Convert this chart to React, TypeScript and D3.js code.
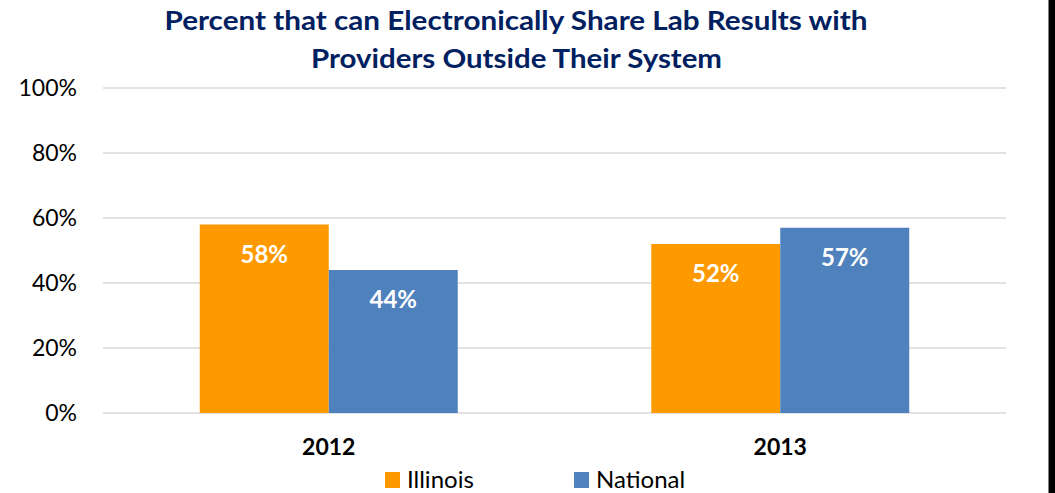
import React from "react";
import * as d3 from "d3";

const categories = ["2012", "2013"];
const seriesNames = ["Illinois", "National"];
const illinoisValues = [58, 52];
const nationalValues = [44, 57];
const yTicks = [0, 20, 40, 60, 80, 100];
const titleLines = [
  "Percent that can Electronically Share Lab Results with",
  "Providers Outside Their System",
];
const colors = ["#FF9900", "#4F81BD"];

const W = 1055;
const H = 493;
const FONT = "Lato, 'Open Sans', sans-serif";

export default function App() {
  const left = 103;
  const right = 1006;
  const top = 88;
  const bottom = 413;

  const x = d3
    .scaleBand<string>()
    .domain(categories)
    .range([left, right])
    .paddingInner(0.4286)
    .paddingOuter(0.2143);
  const xs = d3
    .scaleBand<string>()
    .domain(seriesNames)
    .range([0, x.bandwidth()])
    .padding(0);
  const y = d3.scaleLinear().domain([0, 100]).range([bottom, top]);

  const series = [illinoisValues, nationalValues];

  return (
    <svg
      width={W}
      height={H}
      style={{ position: "absolute", left: 0, top: 0, display: "block", background: "#fff" }}
    >
      <rect x={0} y={0} width={W} height={H} fill="#ffffff" />
      <rect x={1048.5} y={0} width={W - 1048.5} height={H} fill="#000" />

      {/* title */}
      <text
        x={516}
        y={30}
        textAnchor="middle"
        fontFamily={FONT}
        fontWeight="bold"
        fontSize={27}
        fill="#002060"
        textLength={703}
        lengthAdjust="spacingAndGlyphs"
      >
        {titleLines[0]}
      </text>
      <text
        x={516.5}
        y={68}
        textAnchor="middle"
        fontFamily={FONT}
        fontWeight="bold"
        fontSize={27}
        fill="#002060"
        textLength={411}
        lengthAdjust="spacingAndGlyphs"
      >
        {titleLines[1]}
      </text>

      {/* gridlines and y labels */}
      {yTicks.map((t) => (
        <g key={t}>
          <line
            x1={left}
            x2={right}
            y1={y(t)}
            y2={y(t)}
            stroke="#D9D9D9"
            strokeWidth={1.5}
          />
          <text
            x={77}
            y={y(t) + 8}
            textAnchor="end"
            fontFamily={FONT}
            fontSize={23}
            fill="#000"
          >
            {t}%
          </text>
        </g>
      ))}

      {/* bars */}
      {categories.map((c, ci) => (
        <g key={c}>
          {seriesNames.map((s, si) => {
            const v = series[si][ci];
            const bx = (x(c) ?? 0) + (xs(s) ?? 0);
            const bw = xs.bandwidth();
            return (
              <g key={s}>
                <rect
                  x={bx}
                  y={y(v)}
                  width={bw}
                  height={y(0) - y(v)}
                  fill={colors[si]}
                />
                <text
                  x={bx + bw / 2}
                  y={y(v) + 38}
                  textAnchor="middle"
                  fontFamily={FONT}
                  fontWeight="bold"
                  fontSize={24}
                  fill="#ffffff"
                >
                  {v}%
                </text>
              </g>
            );
          })}
          <text
            x={(x(c) ?? 0) + x.bandwidth() / 2}
            y={455}
            textAnchor="middle"
            fontFamily={FONT}
            fontWeight="bold"
            fontSize={23}
            fill="#000"
          >
            {c}
          </text>
        </g>
      ))}

      {/* legend */}
      {seriesNames.map((s, si) => {
        const lx = si === 0 ? 385 : 574;
        return (
          <g key={s}>
            <rect x={lx} y={472} width={15} height={16} fill={colors[si]} />
            <text
              x={lx + 22}
              y={488}
              fontFamily={FONT}
              fontSize={24}
              fill="#000"
            >
              {s}
            </text>
          </g>
        );
      })}
    </svg>
  );
}
